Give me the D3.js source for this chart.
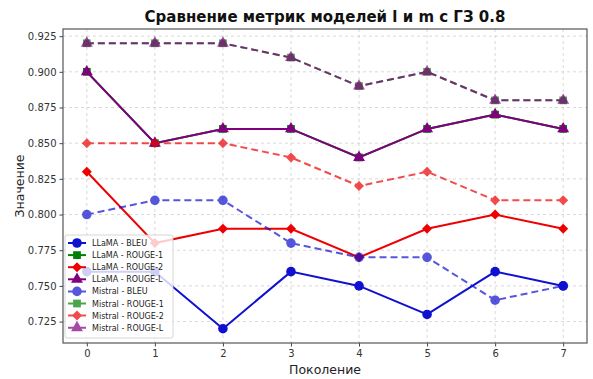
<!DOCTYPE html>
<html><head><meta charset="utf-8">
<script src="https://cdn.jsdelivr.net/npm/d3@7"></script>
<style>body{margin:0;background:#fff}svg{display:block}</style>
</head><body>
<script>
const generations = [0,1,2,3,4,5,6,7];
const llamaBleu   = [0.76,0.76,0.72,0.76,0.75,0.73,0.76,0.75];
const llamaRouge1 = [0.90,0.85,0.86,0.86,0.84,0.86,0.87,0.86];
const llamaRouge2 = [0.83,0.78,0.79,0.79,0.77,0.79,0.80,0.79];
const llamaRougeL = [0.90,0.85,0.86,0.86,0.84,0.86,0.87,0.86];
const mistralBleu   = [0.80,0.81,0.81,0.78,0.77,0.77,0.74,0.75];
const mistralRouge1 = [0.92,0.92,0.92,0.91,0.89,0.90,0.88,0.88];
const mistralRouge2 = [0.85,0.85,0.85,0.84,0.82,0.83,0.81,0.81];
const mistralRougeL = [0.92,0.92,0.92,0.91,0.89,0.90,0.88,0.88];
const yTicks = [0.725,0.750,0.775,0.800,0.825,0.850,0.875,0.900,0.925];
const titleText = "Сравнение метрик моделей l и m с ГЗ 0.8";

const series = [
  {name:"LLaMA - BLEU", values:llamaBleu, color:"#1010d0", marker:"circle", dashed:false},
  {name:"LLaMA - ROUGE-1", values:llamaRouge1, color:"#008000", marker:"square", dashed:false},
  {name:"LLaMA - ROUGE-2", values:llamaRouge2, color:"#ee0000", marker:"diamond", dashed:false},
  {name:"LLaMA - ROUGE-L", values:llamaRougeL, color:"#800080", marker:"triangle", dashed:false},
  {name:"Mistral - BLEU", values:mistralBleu, color:"#1010d0", marker:"circle", dashed:true},
  {name:"Mistral - ROUGE-1", values:mistralRouge1, color:"#008000", marker:"square", dashed:true},
  {name:"Mistral - ROUGE-2", values:mistralRouge2, color:"#ee0000", marker:"diamond", dashed:true},
  {name:"Mistral - ROUGE-L", values:mistralRougeL, color:"#800080", marker:"triangle", dashed:true},
];

const W=593,H=379;
const m={l:63,r:6,t:29,b:36};
const svg=d3.select("body").append("svg").attr("width",W).attr("height",H)
  .style("font-family","'DejaVu Sans', sans-serif");

const x=d3.scaleLinear().domain([-0.35,7.35]).range([m.l,W-m.r]);
const y=d3.scaleLinear().domain([0.71,0.93]).range([H-m.b,m.t]);

// grid
const g=svg.append("g");
g.selectAll(".gx").data(generations).join("line")
  .attr("x1",d=>x(d)).attr("x2",d=>x(d)).attr("y1",m.t).attr("y2",H-m.b)
  .attr("stroke","#cfcfcf").attr("stroke-width",0.8).attr("stroke-dasharray","3,3");
g.selectAll(".gy").data(yTicks).join("line")
  .attr("x1",m.l).attr("x2",W-m.r).attr("y1",d=>y(d)).attr("y2",d=>y(d))
  .attr("stroke","#cfcfcf").attr("stroke-width",0.8).attr("stroke-dasharray","3,3");

// axes
const xAxis=svg.append("g").attr("transform",`translate(0,${H-m.b})`)
  .call(d3.axisBottom(x).tickValues(generations).tickFormat(d3.format("d")).tickSize(3.5).tickPadding(3));
const yAxis=svg.append("g").attr("transform",`translate(${m.l},0)`)
  .call(d3.axisLeft(y).tickValues(yTicks).tickFormat(d3.format(".3f")).tickSize(3.5).tickPadding(3));
[xAxis,yAxis].forEach(a=>{
  a.select(".domain").remove();
  a.selectAll("text").attr("font-size",10).attr("fill","#333").style("font-family","'DejaVu Sans', sans-serif");
  a.selectAll("line").attr("stroke","#444");
});

const sym={circle:d3.symbolCircle,square:d3.symbolSquare,diamond:d3.symbolSquare,triangle:d3.symbolTriangle};
const size={circle:72,square:60,diamond:50,triangle:62};
const rot=s=>s.marker==="diamond"?" rotate(45)":"";
const line=d3.line().x((d,i)=>x(generations[i])).y(d=>y(d));

series.forEach(s=>{
  const grp=svg.append("g").attr("opacity",s.dashed?0.7:1);
  grp.append("path").datum(s.values).attr("d",line).attr("fill","none")
    .attr("stroke",s.color).attr("stroke-width",2)
    .attr("stroke-dasharray",s.dashed?"7,4":null);
  grp.selectAll("path.mk").data(s.values).join("path").attr("class","mk")
    .attr("transform",(d,i)=>`translate(${x(generations[i])},${y(d)})`+rot(s))
    .attr("d",d3.symbol().type(sym[s.marker]).size(size[s.marker]))
    .attr("fill",s.color);
});

// frame
svg.append("rect").attr("x",m.l).attr("y",m.t).attr("width",W-m.r-m.l).attr("height",H-m.b-m.t)
  .attr("fill","none").attr("stroke","#555").attr("stroke-width",1.2);

// title & labels
svg.append("text").attr("x",(m.l+W-m.r)/2).attr("y",22).attr("text-anchor","middle")
  .attr("font-size",15).attr("font-weight","bold").attr("fill","#111").text(titleText);
svg.append("text").attr("x",(m.l+W-m.r)/2).attr("y",374).attr("text-anchor","middle")
  .attr("font-size",12.5).attr("fill","#222").text("Поколение");
svg.append("text").attr("transform",`translate(24,${(m.t+H-m.b)/2}) rotate(-90)`).attr("text-anchor","middle")
  .attr("font-size",12.5).attr("fill","#222").text("Значение");

// legend
const lx=65, ly=235, rowH=12.1;
const leg=svg.append("g");
leg.append("rect").attr("x",lx).attr("y",ly).attr("width",108).attr("height",103).attr("rx",2)
  .attr("fill","#fff").attr("fill-opacity",0.8).attr("stroke","#ccc").attr("stroke-width",0.8);
series.forEach((s,i)=>{
  const cy=ly+8+i*rowH;
  const e=leg.append("g").attr("opacity",s.dashed?0.7:1);
  e.append("line").attr("x1",lx+3).attr("x2",lx+21).attr("y1",cy).attr("y2",cy)
    .attr("stroke",s.color).attr("stroke-width",2).attr("stroke-dasharray",s.dashed?"7,4":null);
  e.append("path").attr("transform",`translate(${lx+12},${cy})`+rot(s))
    .attr("d",d3.symbol().type(sym[s.marker]).size(size[s.marker])).attr("fill",s.color);
  leg.append("text").attr("x",lx+27).attr("y",cy+3).attr("font-size",8).attr("fill","#222").text(s.name);
});
</script>
</body></html>
